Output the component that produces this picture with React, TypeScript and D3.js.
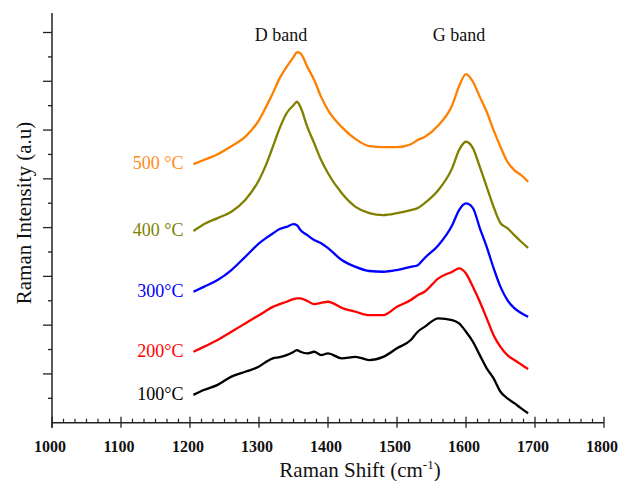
import React from 'react';
import * as d3 from 'd3';

// Raman shift positions (cm-1) shared by all spectra
const shifts = [1205, 1220, 1240, 1260, 1280, 1300, 1310, 1320, 1330, 1340, 1350, 1355, 1360, 1370, 1380, 1390, 1400, 1420, 1440, 1460, 1480, 1500, 1520, 1530, 1540, 1560, 1580, 1590, 1600, 1610, 1620, 1630, 1640, 1650, 1660, 1670, 1680, 1690];

const int500 = [10.60, 10.77, 11.01, 11.34, 11.72, 12.41, 12.94, 13.51, 14.13, 14.59, 14.99, 15.19, 15.15, 14.59, 14.05, 13.36, 12.82, 12.12, 11.63, 11.34, 11.30, 11.30, 11.42, 11.59, 11.72, 12.20, 13.02, 13.80, 14.29, 13.98, 13.36, 12.75, 12.00, 11.31, 10.70, 10.36, 10.15, 9.88];
const int400 = [7.86, 8.14, 8.39, 8.65, 9.13, 9.95, 10.56, 11.31, 12.08, 12.69, 13.02, 13.16, 12.95, 12.13, 11.46, 10.77, 10.23, 9.41, 8.85, 8.59, 8.51, 8.59, 8.72, 8.80, 9.00, 9.54, 10.44, 11.18, 11.52, 11.26, 10.49, 9.67, 8.85, 8.18, 7.98, 7.69, 7.42, 7.17];
const int300 = [5.37, 5.57, 5.85, 6.26, 6.80, 7.35, 7.57, 7.76, 7.94, 8.03, 8.14, 8.10, 7.90, 7.69, 7.49, 7.36, 7.16, 6.67, 6.39, 6.22, 6.19, 6.26, 6.39, 6.46, 6.75, 7.28, 8.10, 8.72, 8.99, 8.80, 7.98, 7.21, 6.34, 5.57, 5.03, 4.70, 4.50, 4.34];
const int200 = [2.91, 3.11, 3.39, 3.73, 4.07, 4.41, 4.58, 4.75, 4.86, 4.96, 5.07, 5.10, 5.10, 4.99, 4.86, 4.91, 4.96, 4.71, 4.55, 4.41, 4.41, 4.75, 5.03, 5.23, 5.37, 5.92, 6.19, 6.33, 6.12, 5.57, 4.96, 4.28, 3.59, 3.11, 2.77, 2.57, 2.39, 2.20];
const int100 = [1.14, 1.34, 1.55, 1.89, 2.09, 2.30, 2.49, 2.64, 2.69, 2.77, 2.90, 2.98, 2.91, 2.84, 2.91, 2.77, 2.84, 2.64, 2.70, 2.57, 2.70, 3.05, 3.39, 3.73, 3.93, 4.28, 4.21, 4.07, 3.73, 3.32, 2.77, 2.23, 1.82, 1.27, 1.00, 0.80, 0.59, 0.39];

const seriesLabels = ['500 °C', '400 °C', '300°C', '200°C', '100°C'];
const seriesColors = ['#ff8000', '#808000', '#0000ff', '#ff0000', '#000000'];
const labelColors = ['#ff8c1a', '#808000', '#0000ff', '#ff0000', '#000000'];
const seriesValues = [int500, int400, int300, int200, int100];

const xTicks = [1000, 1100, 1200, 1300, 1400, 1500, 1600, 1700, 1800];
const bandNames = ['D band', 'G band'];
const bandPositions = [1332, 1590];

const width = 619;
const height = 481;
const serif = '"Liberation Serif", "Times New Roman", serif';

const App = () => {
  const x = d3.scaleLinear().domain([1000, 1800]).range([52, 604]);
  const y = d3.scaleLinear().domain([0, 16.8]).range([422.7, 13]);

  const line = d3.line<[number, number]>()
    .x((d) => x(d[0]))
    .y((d) => y(d[1]))
    .curve(d3.curveMonotoneX);

  // minor x ticks: six intervals per 100 cm-1
  const xMinor: number[] = [];
  for (let i = 0; i < xTicks.length - 1; i++) {
    for (let k = 1; k < 6; k++) xMinor.push(xTicks[i] + (k * 100) / 6);
  }
  const yTicks = d3.range(1, 17);

  return (
    <svg width={width} height={height} style={{ position: 'absolute', left: 0, top: 0 }}>
      <rect width={width} height={height} fill="#fff" />

      {/* spectra */}
      {seriesValues.map((vals, i) => (
        <path
          key={seriesLabels[i]}
          d={line(shifts.map((s, j) => [s, vals[j]] as [number, number])) || ''}
          fill="none"
          stroke={seriesColors[i]}
          strokeWidth={2.3}
          strokeLinejoin="round"
        />
      ))}

      {/* curve labels */}
      {seriesValues.map((vals, i) => (
        <text
          key={'l' + i}
          x={x(shifts[0]) - 10}
          y={y(vals[0]) + 5}
          textAnchor="end"
          fontFamily={serif}
          fontSize={18}
          fill={labelColors[i]}
        >
          {seriesLabels[i]}
        </text>
      ))}

      {bandNames.map((b, i) => (
        <text key={b} x={x(bandPositions[i])} y={41} textAnchor="middle" fontFamily={serif} fontSize={18} fill="#111">
          {b}
        </text>
      ))}

      {/* y axis */}
      <line x1={x(1000)} x2={x(1000)} y1={y(16.8)} y2={y(0) + 5} stroke="#222" strokeWidth={1.5} />
      {yTicks.map((t) => (
        <line
          key={'y' + t}
          x1={x(1000) - (t % 2 === 0 ? 9 : 4)}
          x2={x(1000)}
          y1={y(t)}
          y2={y(t)}
          stroke="#222"
          strokeWidth={1.3}
        />
      ))}

      {/* x axis */}
      <line x1={x(1000)} x2={x(1800)} y1={y(0)} y2={y(0)} stroke="#222" strokeWidth={1.5} />
      {xTicks.map((t) => (
        <g key={'x' + t}>
          <line x1={x(t)} x2={x(t)} y1={y(0) - 6} y2={y(0) + 5} stroke="#222" strokeWidth={1.3} />
          <text x={x(t) - 2} y={451.5} textAnchor="middle" fontFamily={serif} fontWeight="bold" fontSize={16} fill="#111">
            {t}
          </text>
        </g>
      ))}
      {xMinor.map((t, i) => (
        <line key={'m' + i} x1={x(t)} x2={x(t)} y1={y(0) - 4} y2={y(0)} stroke="#222" strokeWidth={1.2} />
      ))}

      {/* axis titles */}
      <text x={360} y={477} textAnchor="middle" fontFamily={serif} fontSize={21} fill="#111">
        Raman Shift (cm<tspan dy={-8} fontSize={13}>-1</tspan><tspan dy={8}>)</tspan>
      </text>
      <text
        transform="translate(31, 213) rotate(-90)"
        textAnchor="middle"
        fontFamily={serif}
        fontSize={21}
        fill="#111"
      >
        Raman Intensity (a.u)
      </text>
    </svg>
  );
};

export default App;
